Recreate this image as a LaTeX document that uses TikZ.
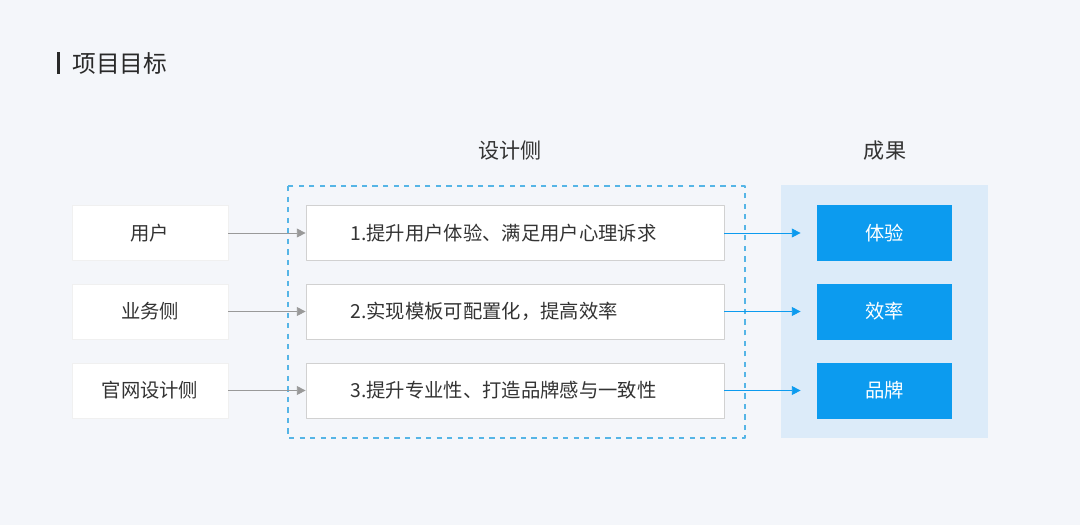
\documentclass[tikz,border=0pt]{standalone}
\usepackage{fontspec}
\setmainfont{Noto Sans CJK SC}
\usetikzlibrary{arrows.meta}
\definecolor{bgc}{HTML}{F4F6FA}
\definecolor{bluebox}{HTML}{0C9BEF}
\definecolor{bluepanel}{HTML}{DCEBF9}
\definecolor{dashc}{HTML}{55B5E6}
\definecolor{txtc}{HTML}{333333}
\begin{document}
\begin{tikzpicture}[x=0.02cm,y=-0.02cm, >={Triangle[length=5pt,width=5pt]}, font=\fontsize{11}{13}\selectfont, line join=round,
	srcbox/.style={fill=white, draw=black!6, minimum width=156*0.02cm, minimum height=55*0.02cm, inner sep=0pt, text=txtc},
	midbox/.style={fill=white, draw=black!18, line width=0.4pt, minimum width=418*0.02cm, minimum height=55*0.02cm, inner sep=0pt, text=txtc},
	midtext/.style={anchor=west, inner sep=0pt, text=txtc},
	resbox/.style={fill=bluebox, minimum width=135*0.02cm, minimum height=56*0.02cm, inner sep=0pt, text=white, font=\fontsize{11}{13}\selectfont}]
	\fill[bgc] (0,0) rectangle (1080,525);
	\useasboundingbox (0,0) rectangle (1080,525);
	% Tiêu đề
	\fill[txtc!80!black] (57,52) rectangle (60,74);
	\node[anchor=west, inner sep=0pt, text=txtc!80!black, font=\fontsize{13.5}{15}\selectfont] (title) at (72,63) {项目目标};
	\node[text=txtc, font=\fontsize{12}{14}\selectfont] (design) at (510,151) {设计侧};
	\node[text=txtc, font=\fontsize{12}{14}\selectfont] (result) at (885,151) {成果};
	% Khung
	\fill[bluepanel] (781,185) rectangle (988,438);
	\draw[dashc, dashed, line width=0.6pt] (288,186) rectangle (745,438);
	% Hộp
	\node[srcbox] (user) at (150,233) {用户};
	\node[srcbox] (biz) at (150,311.5) {业务侧};
	\node[srcbox] (web) at (150,390.5) {官网设计侧};
	\node[midbox] (m1) at (515,233) {};
	\node[midbox] (m2) at (515,311.5) {};
	\node[midbox] (m3) at (515,390.5) {};
	\node[midtext] (t1) at (350,233) {1.提升用户体验、满足用户心理诉求};
	\node[midtext] (t2) at (350,311.5) {2.实现模板可配置化，提高效率};
	\node[midtext] (t3) at (350,390.5) {3.提升专业性、打造品牌感与一致性};
	\node[resbox] (r1) at (884.5,233) {体验};
	\node[resbox] (r2) at (884.5,311.5) {效率};
	\node[resbox] (r3) at (884.5,390.5) {品牌};
	% Mũi tên
	\foreach \s/\t in {user/m1, biz/m2, web/m3}
		\draw[->, black!40, line width=0.5pt] (\s) -- (\t);
	\foreach \s/\t in {m1/r1, m2/r2, m3/r3}
		\draw[->, bluebox, line width=0.5pt, shorten >=16*0.02cm] (\s) -- (\t);
\end{tikzpicture}
\end{document}
